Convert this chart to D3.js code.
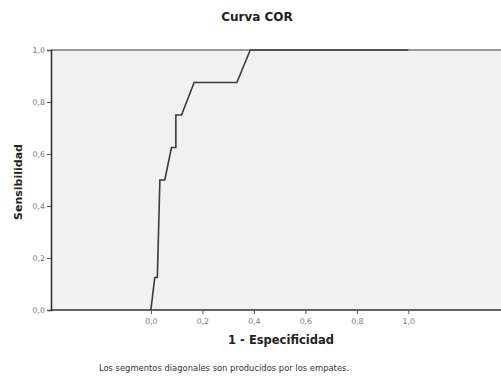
<!DOCTYPE html>
<html>
<head>
<meta charset="utf-8">
<script src="https://cdn.jsdelivr.net/npm/d3@7"></script>
<style>
  body { margin: 0; background: #fff; }
  svg text { font-family: "DejaVu Sans", sans-serif; }
</style>
</head>
<body>
<div id="chart"></div>
<script>
// ROC curve points (1 - especificidad, sensibilidad)
const fpr = [0, 0.015, 0.025, 0.035, 0.054, 0.080, 0.097, 0.097, 0.119, 0.168, 0.334, 0.386, 1.0];
const tpr = [0, 0.125, 0.125, 0.5, 0.5, 0.625, 0.625, 0.75, 0.75, 0.875, 0.875, 1.0, 1.0];
const xTicks = [0, 0.2, 0.4, 0.6, 0.8, 1.0];
const yTicks = [0, 0.2, 0.4, 0.6, 0.8, 1.0];
const xDomain = [-0.388, 1.36];

const width = 501, height = 380;
const margin = { top: 50, right: 0, bottom: 70, left: 51 };

const svg = d3.select("#chart").append("svg")
  .attr("width", width)
  .attr("height", height);

const x = d3.scaleLinear().domain(xDomain).range([margin.left, width - margin.right]);
const y = d3.scaleLinear().domain([0, 1]).range([height - margin.bottom, margin.top]);
const fmt = d => d3.format(".1f")(d).replace(".", ",");

// plot background
svg.append("rect")
  .attr("x", x(xDomain[0]))
  .attr("y", y(1))
  .attr("width", x(xDomain[1]) - x(xDomain[0]))
  .attr("height", y(0) - y(1))
  .attr("fill", "#f1f1f1");

// top frame
svg.append("line")
  .attr("x1", x(xDomain[0])).attr("x2", x(xDomain[1]))
  .attr("y1", y(1)).attr("y2", y(1))
  .attr("stroke", "#9a9a9a").attr("stroke-width", 2);

// curve
const pts = fpr.map((v, i) => [v, tpr[i]]);
svg.append("path")
  .datum(pts)
  .attr("fill", "none")
  .attr("stroke", "#3a3a3a")
  .attr("stroke-width", 1.6)
  .attr("d", d3.line().x(d => x(d[0])).y(d => y(d[1])));

// axes
const xAxis = svg.append("g")
  .attr("transform", `translate(0,${y(0)})`)
  .call(d3.axisBottom(x).tickValues(xTicks).tickFormat(fmt).tickSize(4).tickPadding(4));
xAxis.select(".domain").attr("d", `M${x(xDomain[0])},0H${x(xDomain[1])}`)
  .attr("stroke", "#333").attr("stroke-width", 1.6);

const yAxis = svg.append("g")
  .attr("transform", `translate(${x(xDomain[0])},0)`)
  .call(d3.axisLeft(y).tickValues(yTicks).tickFormat(fmt).tickSize(4).tickPadding(2));
yAxis.select(".domain").attr("stroke", "#333").attr("stroke-width", 1.6);

svg.selectAll(".tick line").attr("stroke", "#555");
svg.selectAll(".tick text").attr("fill", "#777").style("font-size", "7.8px");

// titles
svg.append("text")
  .attr("x", 257).attr("y", 21)
  .attr("text-anchor", "middle")
  .style("font-size", "12px").style("font-weight", "bold")
  .attr("fill", "#222")
  .text("Curva COR");

svg.append("text")
  .attr("x", 281).attr("y", 344)
  .attr("text-anchor", "middle")
  .style("font-size", "11.5px").style("font-weight", "bold")
  .attr("fill", "#222")
  .text("1 - Especificidad");

svg.append("text")
  .attr("transform", `translate(22,${(y(0) + y(1)) / 2 + 2}) rotate(-90)`)
  .attr("text-anchor", "middle")
  .style("font-size", "11px").style("font-weight", "bold")
  .attr("fill", "#222")
  .text("Sensibilidad");

svg.append("text")
  .attr("x", 224).attr("y", 371)
  .attr("text-anchor", "middle")
  .style("font-size", "8.4px")
  .attr("fill", "#333")
  .text("Los segmentos diagonales son producidos por los empates.");
</script>
</body>
</html>
